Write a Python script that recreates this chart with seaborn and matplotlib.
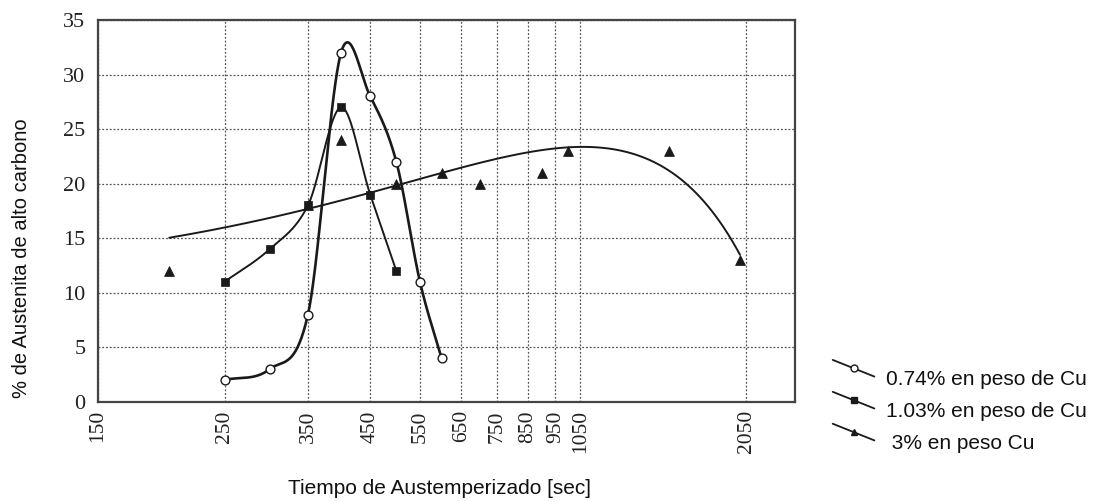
import numpy as np
import pandas as pd
import matplotlib
matplotlib.use("Agg")
import matplotlib.pyplot as plt
import seaborn as sns
from matplotlib.lines import Line2D
from matplotlib.legend_handler import HandlerBase

# ---------------- data ----------------
x_074 = [250, 300, 350, 400, 450, 500, 550, 600]
y_074 = [2, 3, 8, 32, 28, 22, 11, 4]

x_103 = [250, 300, 350, 400, 450, 500]
y_103 = [11, 14, 18, 27, 19, 12]

x_3 = [200, 350, 400, 500, 600, 700, 900, 1000, 1500, 2000]
y_3 = [12, 18, 24, 20, 21, 20, 21, 23, 23, 13]

x_ticks = [150, 250, 350, 450, 550, 650, 750, 850, 950, 1050, 2050]
y_ticks = [0, 5, 10, 15, 20, 25, 30, 35]

labels = ["0.74% en peso de Cu", "1.03% en peso de Cu", " 3% en peso Cu"]


def hermite_curve(xv, yv, n=60):
    """Smooth Catmull-Rom style curve through the points (in log-x space)."""
    u = np.log10(np.asarray(xv, float)); y = np.asarray(yv, float)
    k = len(u)
    m = np.zeros(k)
    m[0] = (y[1] - y[0]) / (u[1] - u[0])
    m[-1] = (y[-1] - y[-2]) / (u[-1] - u[-2])
    for i in range(1, k - 1):
        m[i] = (y[i + 1] - y[i - 1]) / (u[i + 1] - u[i - 1])
    us, ys = [], []
    for i in range(k - 1):
        h = u[i + 1] - u[i]
        t = np.linspace(0, 1, n)
        h00 = 2 * t**3 - 3 * t**2 + 1
        h10 = t**3 - 2 * t**2 + t
        h01 = -2 * t**3 + 3 * t**2
        h11 = t**3 - t**2
        us.append(u[i] + t * h)
        ys.append(h00 * y[i] + h10 * h * m[i] + h01 * y[i + 1] + h11 * h * m[i + 1])
    return 10 ** np.concatenate(us), np.concatenate(ys)


sns.set_theme(style="white")
plt.rcParams["font.family"] = ["Liberation Sans", "DejaVu Sans"]

fig = plt.figure(figsize=(11, 5.01), dpi=100)
ax = fig.add_axes([0.089, 0.198, 0.634, 0.762])

ink = "#1a1a1a"

# smooth curves through data
sx, sy = hermite_curve(x_074, y_074)
ax.plot(sx, sy, color=ink, lw=1.9, zorder=3)
sx, sy = hermite_curve(x_103, y_103)
ax.plot(sx, sy, color=ink, lw=1.4, zorder=3)

# quadratic trend of the 3% series
df3 = pd.DataFrame({"t": x_3, "v": y_3})
sns.regplot(data=df3, x="t", y="v", order=2, ci=None, scatter=False, truncate=True,
            line_kws=dict(color=ink, lw=1.4), ax=ax)

df1 = pd.DataFrame({"t": x_074, "v": y_074})
df2 = pd.DataFrame({"t": x_103, "v": y_103})
sns.scatterplot(data=df3, x="t", y="v", marker="^", s=50, color=ink,
                edgecolor=ink, zorder=4, ax=ax)
sns.scatterplot(data=df1, x="t", y="v", marker="o", s=40, facecolor="white",
                edgecolor=ink, linewidth=1.0, zorder=5, ax=ax)
sns.scatterplot(data=df2, x="t", y="v", marker="s", s=40, color=ink,
                edgecolor=ink, zorder=5, ax=ax)

ax.set_xscale("log")
ax.set_xlim(150, 2500)
ax.set_ylim(0, 35)
ax.set_xticks(x_ticks)
ax.set_xticklabels([str(t) for t in x_ticks], rotation=90,
                   family=["Liberation Serif", "DejaVu Serif"], fontsize=15.5)
ax.xaxis.set_minor_locator(matplotlib.ticker.NullLocator())
ax.set_yticks(y_ticks)
ax.set_yticklabels([str(t) for t in y_ticks],
                   family=["Liberation Serif", "DejaVu Serif"], fontsize=16)
ax.tick_params(axis="both", length=0, colors="#222222")
ax.tick_params(axis="y", pad=9)
ax.tick_params(axis="x", pad=6)
ax.grid(True, which="major", linestyle=(0, (1.5, 1.5)), color="#555555", lw=0.9)
for sp in ax.spines.values():
    sp.set_color("#444444"); sp.set_linewidth(1.6)

ax.set_xlabel("Tiempo de Austemperizado [sec]", fontsize=15, color="#111111", va="center")
ax.xaxis.set_label_coords(0.49, -0.228)
ax.set_ylabel("% de Austenita de alto carbono", fontsize=14.5, color="#111111",
              va="center", ha="center")
ax.yaxis.set_label_coords(-0.11, 0.377)


class DiagHandler(HandlerBase):
    def __init__(self, marker, fc, ms):
        super().__init__()
        self.marker, self.fc, self.ms = marker, fc, ms

    def create_artists(self, legend, orig_handle, xdescent, ydescent, width, height, fontsize, trans):
        x0, x1 = -xdescent, width - xdescent
        ymid = height / 2 - ydescent
        y0, y1 = ymid + 13, ymid + 1
        line = Line2D([x0, x1], [y0, y1], color=ink, lw=1.3, transform=trans)
        mk = Line2D([(x0 + x1) / 2], [(y0 + y1) / 2], marker=self.marker, ms=self.ms,
                    mfc=self.fc, mec=ink, lw=0, transform=trans)
        return [line, mk]


handles = [Line2D([], []), Line2D([], [], color="k"), Line2D([], [], color="0.1")]
hmap = {handles[0]: DiagHandler("o", "white", 5),
        handles[1]: DiagHandler("s", ink, 4.5),
        handles[2]: DiagHandler("^", ink, 4.5)}
leg = fig.legend(handles, labels, handler_map=hmap, loc="upper left",
                 bbox_to_anchor=(0.757, 0.261), frameon=False, fontsize=15,
                 handlelength=2.0, handletextpad=0.57, labelspacing=0.62,
                 borderpad=0, borderaxespad=0)
for t in leg.get_texts():
    t.set_color("#111111")

fig.savefig("out.png", dpi=100)
